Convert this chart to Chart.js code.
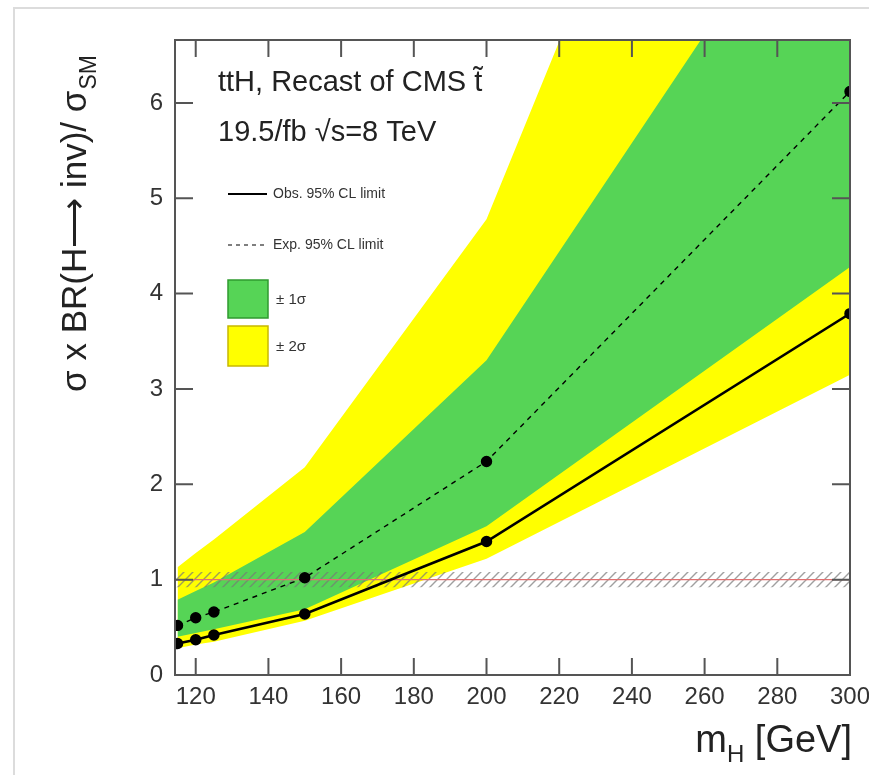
<!DOCTYPE html>
<html>
<head>
<meta charset="utf-8">
<script src="https://cdn.jsdelivr.net/npm/chart.js@4.4.0/dist/chart.umd.min.js"></script>
<style>
  body { margin: 0; background: #fff; }
  #wrap { width: 869px; height: 775px; position: relative; }
</style>
</head>
<body>
<div id="wrap"><canvas id="myChart"></canvas></div>
<script>
// dados
const masses   = [115, 120, 125, 150, 200, 300];      // m_H [GeV]
const observed = [0.33, 0.37, 0.42, 0.64, 1.40, 3.79];
const expected = [0.52, 0.60, 0.66, 1.02, 2.24, 6.12];
const plus2    = [1.13, 1.28, 1.42, 2.18, 4.78, 14.1];
const plus1    = [0.79, 0.88, 0.97, 1.50, 3.30, 9.0];
const minus1   = [0.40, 0.44, 0.48, 0.69, 1.56, 4.28];
const minus2   = [0.28, 0.32, 0.35, 0.57, 1.22, 3.15];

const smRange  = [114.3, 300.5];  // linha SM = 1
const smValue  = [1, 1];
const smUp     = [1.08, 1.08];
const smDown   = [0.92, 0.92];

const xTicks = [120, 140, 160, 180, 200, 220, 240, 260, 280, 300];
const yTicks = [0, 1, 2, 3, 4, 5, 6];

const FONT = '"Liberation Sans", Arial, Helvetica, sans-serif';
const GREEN = '#56d456';
const YELLOW = '#ffff00';

const pts = (ys, xs = masses) => xs.map((x, i) => ({x: x, y: ys[i]}));

// hachura cinza da banda do SM
const pc = document.createElement('canvas');
pc.width = 9; pc.height = 9;
const pctx = pc.getContext('2d');
pctx.strokeStyle = 'rgba(120,120,120,0.7)';
pctx.lineWidth = 1.4;
pctx.beginPath();
pctx.moveTo(0, 9); pctx.lineTo(9, 0);
pctx.moveTo(-2, 2); pctx.lineTo(2, -2);
pctx.moveTo(7, 11); pctx.lineTo(11, 7);
pctx.stroke();
const hatch = pctx.createPattern(pc, 'repeat');

const noPt = {pointRadius: 0, borderWidth: 0};

const data = {
  datasets: [
    { label: 'Obs', data: pts(observed), borderColor: '#000', backgroundColor: '#000',
      borderWidth: 2.5, pointRadius: 4.5, fill: false },
    { label: 'Exp', data: pts(expected), borderColor: '#000', backgroundColor: '#000',
      borderWidth: 1.4, borderDash: [5, 5], pointRadius: 5, fill: false },
    { label: 'SM', data: pts(smValue, smRange), borderColor: '#e07070', borderWidth: 1.3,
      pointRadius: 0, fill: false },
    { label: 'hatchUp', data: pts(smUp, smRange), backgroundColor: hatch, fill: 4, ...noPt },
    { label: 'hatchDn', data: pts(smDown, smRange), fill: false, ...noPt },
    { label: '+1', data: pts(plus1), backgroundColor: GREEN, fill: 6, ...noPt },
    { label: '-1', data: pts(minus1), fill: false, ...noPt },
    { label: '+2', data: pts(plus2), backgroundColor: YELLOW, fill: 8, ...noPt },
    { label: '-2', data: pts(minus2), fill: false, ...noPt },
  ]
};

// moldura, ticks para dentro e textos
const decor = {
  id: 'decor',
  afterDraw(chart) {
    const {ctx, chartArea: a, scales: {x, y}} = chart;
    ctx.save();
    // borda leve da captura
    ctx.strokeStyle = '#dcdcdc'; ctx.lineWidth = 2;
    ctx.beginPath(); ctx.moveTo(14, 775); ctx.lineTo(14, 8); ctx.lineTo(869, 8); ctx.stroke();

    ctx.strokeStyle = '#555'; ctx.lineWidth = 2;
    ctx.strokeRect(a.left, a.top, a.right - a.left, a.bottom - a.top);
    ctx.beginPath();
    xTicks.forEach(v => {
      const px = x.getPixelForValue(v);
      ctx.moveTo(px, a.bottom); ctx.lineTo(px, a.bottom - 17);
      ctx.moveTo(px, a.top); ctx.lineTo(px, a.top + 17);
    });
    yTicks.forEach(v => {
      const py = y.getPixelForValue(v);
      ctx.moveTo(a.left, py); ctx.lineTo(a.left + 18, py);
      ctx.moveTo(a.right, py); ctx.lineTo(a.right - 18, py);
    });
    ctx.stroke();

    // titulo interno
    ctx.fillStyle = '#222';
    ctx.textAlign = 'left'; ctx.textBaseline = 'alphabetic';
    ctx.font = '29px ' + FONT;
    ctx.fillText('ttH, Recast of CMS t\u0303', 218, 91);
    ctx.fillText('19.5/fb \u221As=8 TeV', 218, 141);

    // legenda
    ctx.font = '14px ' + FONT;
    ctx.fillStyle = '#333';
    ctx.textBaseline = 'middle';
    ctx.strokeStyle = '#000';
    ctx.lineWidth = 2;
    ctx.beginPath(); ctx.moveTo(228, 194); ctx.lineTo(267, 194); ctx.stroke();
    ctx.fillText('Obs. 95% CL limit', 273, 194);
    ctx.lineWidth = 1.2; ctx.setLineDash([4, 4]);
    ctx.beginPath(); ctx.moveTo(228, 245); ctx.lineTo(267, 245); ctx.stroke();
    ctx.setLineDash([]);
    ctx.fillText('Exp. 95% CL limit', 273, 245);

    ctx.fillStyle = GREEN; ctx.fillRect(228, 280, 40, 38);
    ctx.strokeStyle = '#2f9a2f'; ctx.lineWidth = 1.5; ctx.strokeRect(228, 280, 40, 38);
    ctx.fillStyle = YELLOW; ctx.fillRect(228, 326, 40, 40);
    ctx.strokeStyle = '#c8b800'; ctx.strokeRect(228, 326, 40, 40);
    ctx.fillStyle = '#333';
    ctx.font = '15px ' + FONT;
    ctx.fillText('\u00B1 1\u03C3', 276, 300);
    ctx.fillText('\u00B1 2\u03C3', 276, 347);

    // titulo do eixo y
    ctx.save();
    ctx.translate(86, 224);
    ctx.rotate(-Math.PI / 2);
    ctx.fillStyle = '#222';
    ctx.textBaseline = 'alphabetic';
    const main = '\u03C3 x BR(H\u27F6 inv)/ \u03C3';
    ctx.font = '35px ' + FONT;
    const wMain = ctx.measureText(main).width;
    ctx.font = '23px ' + FONT;
    const wSub = ctx.measureText('SM').width;
    const x0 = -(wMain + wSub) / 2;
    ctx.font = '35px ' + FONT;
    ctx.fillText(main, x0, 0);
    ctx.font = '23px ' + FONT;
    ctx.fillText('SM', x0 + wMain + 1, 10);
    ctx.restore();

    // titulo do eixo x
    ctx.fillStyle = '#222';
    ctx.textBaseline = 'alphabetic';
    ctx.font = '38px ' + FONT;
    const t1 = 'm', t3 = ' [GeV]';
    const w1 = ctx.measureText(t1).width, w3 = ctx.measureText(t3).width;
    ctx.font = '24px ' + FONT;
    const w2 = ctx.measureText('H').width;
    let xs = 852 - (w1 + w2 + w3);
    ctx.font = '38px ' + FONT;
    ctx.fillText(t1, xs, 752);
    ctx.font = '24px ' + FONT;
    ctx.fillText('H', xs + w1, 762);
    ctx.font = '38px ' + FONT;
    ctx.fillText(t3, xs + w1 + w2, 752);
    ctx.restore();
  }
};

const config = {
  type: 'line',
  data: data,
  options: {
    responsive: true,
    maintainAspectRatio: false,
    animation: false,
    layout: { padding: { left: 115, top: 40, right: 19, bottom: 0 } },
    plugins: { legend: { display: false }, tooltip: { enabled: false } },
    elements: { line: { tension: 0 } },
    scales: {
      x: {
        type: 'linear', min: 114.3, max: 300,
        afterBuildTicks: s => { s.ticks = xTicks.map(v => ({value: v})); },
        afterFit: s => { s.height = 100; s.paddingLeft = 0; s.paddingRight = 0; },
        ticks: { color: '#333', padding: 8, maxRotation: 0, autoSkip: false,
                 font: { size: 24, family: FONT } },
        grid: { display: false, drawTicks: false },
        border: { display: false }
      },
      y: {
        min: 0, max: 6.66,
        afterBuildTicks: s => { s.ticks = yTicks.map(v => ({value: v})); },
        afterFit: s => { s.width = 60; s.paddingTop = 0; s.paddingBottom = 0; },
        ticks: { color: '#333', padding: 12, font: { size: 24, family: FONT } },
        grid: { display: false, drawTicks: false },
        border: { display: false }
      }
    }
  },
  plugins: [decor]
};

const myChart = new Chart(document.getElementById('myChart'), config);
</script>
</body>
</html>
